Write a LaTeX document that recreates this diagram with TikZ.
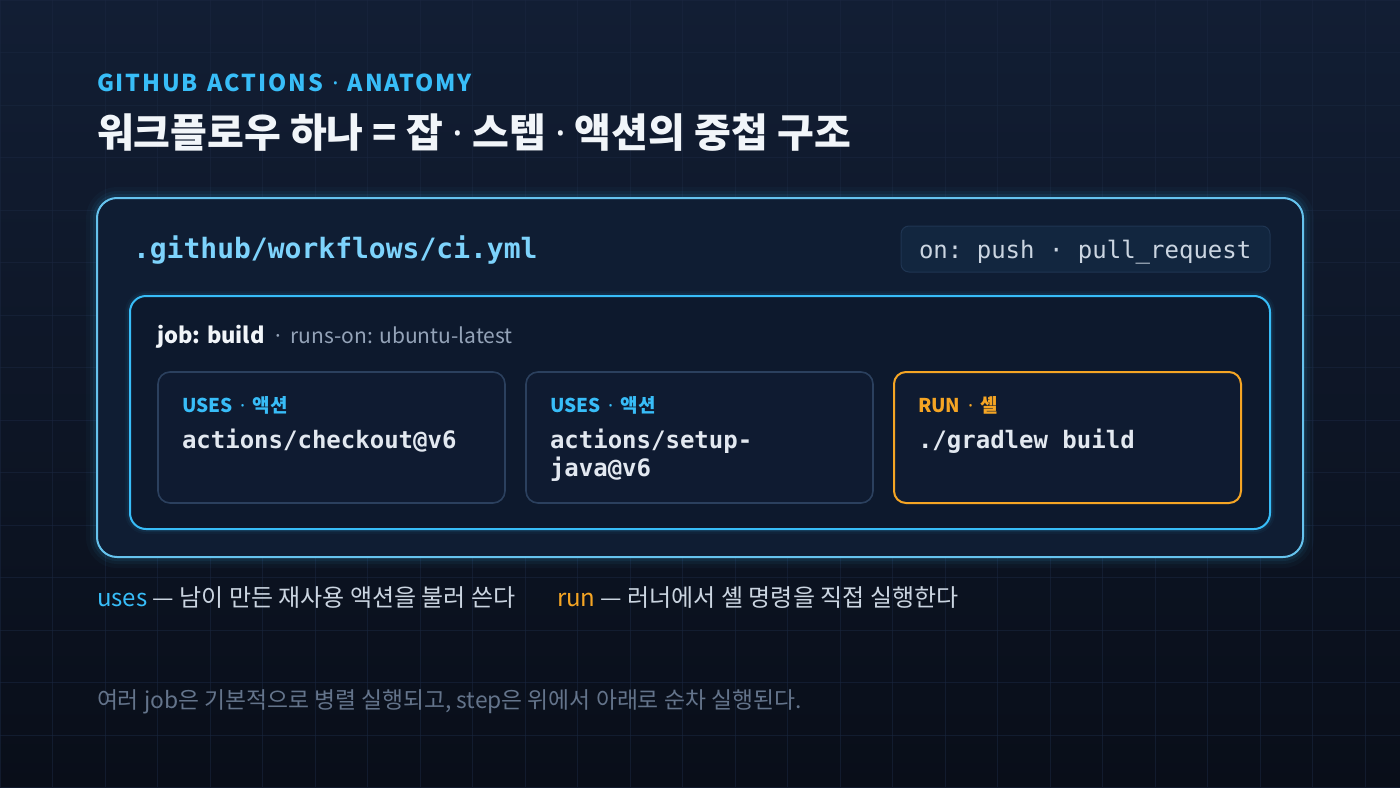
\documentclass[tikz,border=0pt]{standalone}
\usepackage{fontspec}
\setmainfont{Noto Sans CJK KR}
\setmonofont{DejaVu Sans Mono}
\newfontfamily\latinsans{Noto Sans}
\newcommand{\mydot}{{\latinsans ·}}
\newcommand{\sdot}{\hspace{0.4em}{\latinsans ·}\hspace{0.4em}}
\usetikzlibrary{positioning}
\definecolor{bgtop}{HTML}{121E34}
\definecolor{bgbot}{HTML}{090E19}
\definecolor{sky}{HTML}{38BDF8}
\definecolor{skylt}{HTML}{7DD3FC}
\definecolor{outerln}{HTML}{66C3EE}
\definecolor{outerfill}{HTML}{0F1D33}
\definecolor{jobfill}{HTML}{0D192D}
\definecolor{stepfill}{HTML}{0F1B31}
\definecolor{stepln}{HTML}{2B405E}
\definecolor{amber}{HTML}{F5A524}
\definecolor{titlec}{HTML}{F1F5F9}
\definecolor{codec}{HTML}{E2E8F0}
\definecolor{legc}{HTML}{CBD5E1}
\definecolor{mutedc}{HTML}{94A3B8}
\definecolor{footc}{HTML}{64748B}
\definecolor{onfill}{HTML}{12263F}
\definecolor{onln}{HTML}{1F3552}
\definecolor{gridc}{HTML}{1A2740}
\tikzset{
  txt/.style={inner sep=0pt, outer sep=0pt, anchor=base west},
  stepbox/.style={draw=stepln, line width=1.6pt, fill=stepfill, rounded corners=12pt,
    minimum width=347pt, minimum height=131pt, inner sep=0pt},
  runbox/.style={stepbox, draw=amber, line width=2pt},
  lbl/.style={txt, font=\fontsize{19}{22}\selectfont\bfseries, text=sky},
  code/.style={txt, font=\fontsize{24}{28}\selectfont\ttfamily\bfseries, text=codec},
}
\begin{document}
\begin{tikzpicture}[x=1pt,y=-1pt]
\useasboundingbox (0,0) rectangle (1400,787);
% background
\shade[top color=bgtop, bottom color=bgbot] (0,0) rectangle (1400,787);
\foreach \i in {0,...,27} {\draw[gridc, line width=0.8pt, opacity=0.55] (\i*52.5,0) -- (\i*52.5,787);}
\foreach \j in {0,...,15} {\draw[gridc, line width=0.8pt, opacity=0.55] (0,\j*52.5) -- (1400,\j*52.5);}
% header
\node[txt, font=\fontsize{23.2}{28}\selectfont\bfseries\addfontfeatures{LetterSpace=8}, text=sky] (kicker) at (97,91) {GITHUB\hspace{0.12em} ACTIONS\sdot ANATOMY};
\node[txt, font=\fontsize{40}{46}\selectfont\bfseries, text=titlec] (title) at (97,147) {워크플로우 하나 = 잡 \mydot{} 스텝 \mydot{} 액션의 중첩 구조};
% outer workflow box with glow
\foreach \w/\o in {22/0.03,14/0.05,8/0.08} {
  \draw[sky, line width=\w pt, opacity=\o, rounded corners=20pt] (97,198) rectangle (1303,557);
}
\node[draw=outerln, line width=2pt, fill=outerfill, rounded corners=20pt, minimum width=1206pt, minimum height=359pt, inner sep=0pt] (wf) at (700,377.5) {};
\node[txt, font=\fontsize{28}{32}\selectfont\ttfamily\bfseries, text=skylt] (file) at (133,258) {.github/workflows/ci.yml};
\node[draw=onln, line width=1pt, fill=onfill, rounded corners=8pt, minimum width=369pt, minimum height=46pt, inner sep=0pt] (onbox) at (1085.5,249) {};
\node[txt, font=\fontsize{24}{28}\selectfont\ttfamily, text=legc] (ontxt) at (919,258) {on: push · pull\_request};
% job box
\foreach \w/\o in {10/0.04,6/0.07} {
  \draw[sky, line width=\w pt, opacity=\o, rounded corners=16pt] (130,296) rectangle (1270,529);
}
\node[draw=sky, line width=2pt, fill=jobfill, rounded corners=16pt, minimum width=1140pt, minimum height=233pt, inner sep=0pt] (job) at (700,412.5) {};
\node[txt, font=\fontsize{22}{26}\selectfont\bfseries, text=titlec] (jobname) at (157,343) {job: build};
\node[txt, font=\fontsize{21}{24}\selectfont, text=mutedc, right=8pt of jobname.base east, anchor=base west] (runson) {·\hspace{0.3em}runs-on: ubuntu-latest};
% steps
\node[stepbox] (s1) at (331.5,437.5) {};
\node[stepbox] (s2) at (699.5,437.5) {};
\node[runbox] (s3) at (1067.5,437.5) {};
\node[lbl] (s1l) at (182,412) {USES\sdot 액션};
\node[code] (s1c) at (182,448) {actions/checkout@v6};
\node[lbl] (s2l) at (550,412) {USES\sdot 액션};
\node[code] (s2c) at (550,448) {actions/setup-};
\node[code] (s2d) at (550,476) {java@v6};
\node[lbl, text=amber] (s3l) at (918,412) {RUN\sdot 셸};
\node[code] (s3c) at (918,448) {./gradlew build};
% legend
\node[txt, font=\fontsize{24}{28}\selectfont, text=legc] (leg1) at (97,606) {\textcolor{sky}{uses} — 남이 만든 재사용 액션을 불러 쓴다};
\node[txt, font=\fontsize{24}{28}\selectfont, text=legc] (leg2) at (557,606) {\textcolor{amber}{run} — 러너에서 셸 명령을 직접 실행한다};
% footer
\node[txt, font=\fontsize{22.8}{26}\selectfont, text=footc] (foot) at (97,708) {여러 job은 기본적으로 병렬 실행되고, step은 위에서 아래로 순차 실행된다.};
\end{tikzpicture}
\end{document}
